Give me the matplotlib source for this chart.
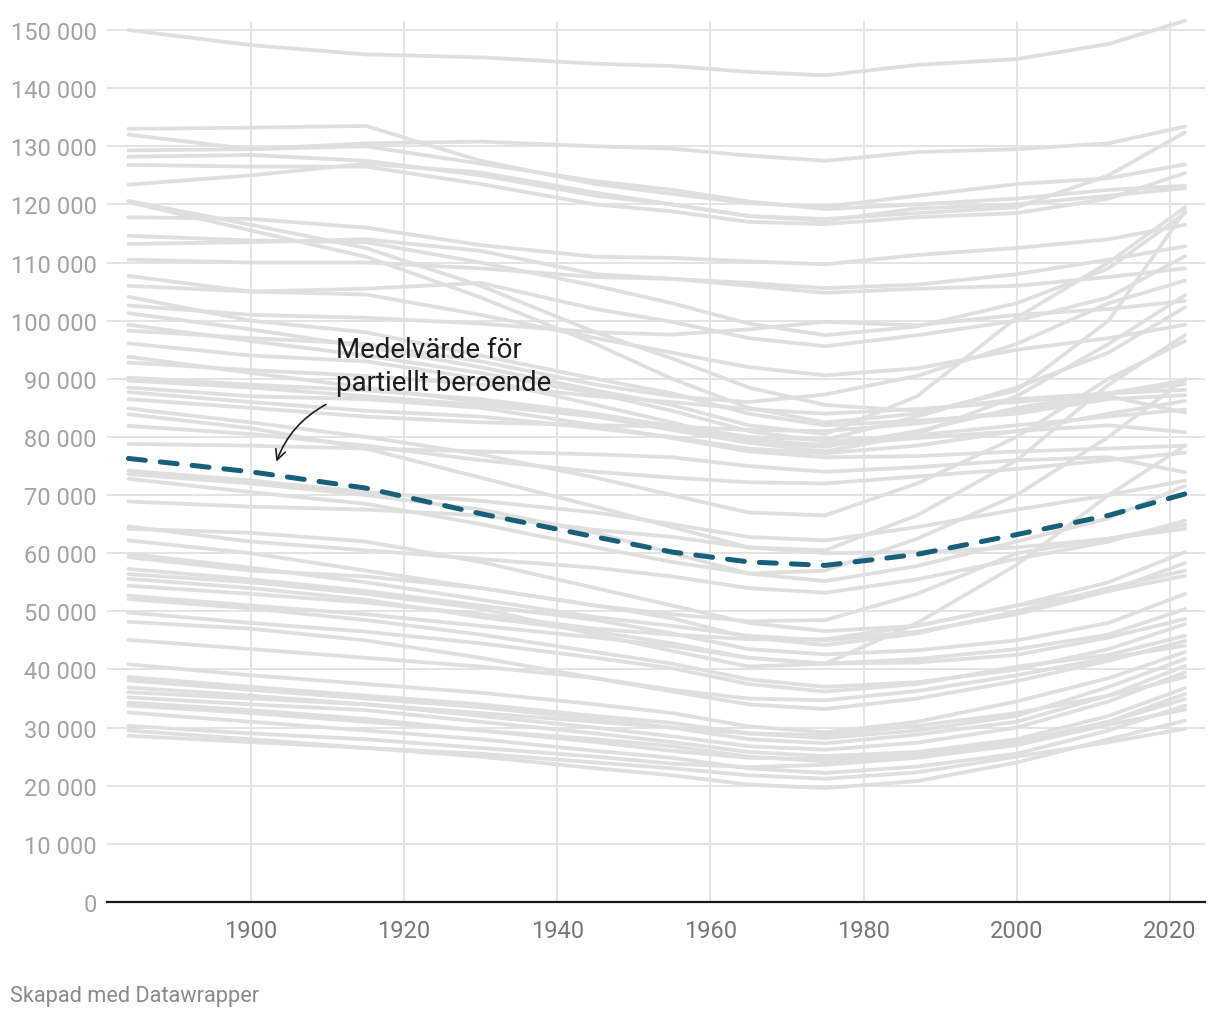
import matplotlib
matplotlib.use("Agg")
import matplotlib.pyplot as plt
import numpy as np

plt.rcParams['font.family'] = ['Roboto', 'DejaVu Sans']

YEARS = [1884, 1900, 1915, 1930, 1945, 1955, 1965, 1975, 1987, 2000, 2012, 2022]

# grey series (thousands)
LINES = [
    [150.0, 147.4, 145.8, 145.3, 144.2, 143.8, 142.8, 142.2, 144.0, 145.0, 147.6, 151.6],
    [129.3, 129.5, 130.5, 130.8, 130.0, 129.6, 128.4, 127.5, 129.0, 129.5, 130.5, 133.4],
    [133.0, 133.2, 133.5, 127.5, 123.5, 121.8, 120.2, 119.6, 121.5, 123.5, 124.5, 126.9],
    [132.0, 129.5, 130.0, 127.0, 124.0, 122.5, 120.5, 119.2, 120.0, 121.0, 122.5, 123.2],
    [128.2, 128.5, 127.5, 125.0, 121.5, 120.0, 118.0, 117.2, 119.3, 120.0, 121.5, 122.8],
    [126.8, 126.5, 126.5, 123.5, 120.0, 118.8, 117.0, 116.6, 117.8, 118.5, 121.0, 125.4],
    [123.4, 125.0, 127.0, 125.5, 122.0, 120.0, 118.0, 117.5, 118.5, 119.5, 125.0, 132.4],
    [120.6, 116.5, 112.5, 106.0, 98.0, 93.5, 88.5, 85.5, 84.5, 86.5, 87.5, 89.1],
    [120.4, 115.5, 111.0, 104.0, 96.0, 90.0, 85.0, 82.5, 84.0, 88.0, 100.0, 118.9],
    [117.8, 117.5, 116.0, 113.0, 111.0, 110.8, 110.2, 109.7, 111.3, 112.5, 114.0, 116.5],
    [114.6, 113.8, 113.5, 110.0, 106.0, 103.0, 99.5, 97.5, 99.0, 103.0, 109.0, 118.5],
    [113.2, 113.5, 114.0, 112.0, 108.0, 107.2, 106.0, 104.8, 105.5, 106.0, 107.5, 109.0],
    [110.5, 110.0, 110.0, 109.0, 107.5, 107.2, 106.5, 105.6, 106.2, 108.0, 110.5, 112.8],
    [107.7, 105.0, 104.5, 101.0, 97.0, 94.5, 92.0, 90.6, 91.8, 95.0, 97.0, 99.3],
    [106.0, 105.0, 105.5, 106.5, 102.0, 99.8, 97.0, 95.6, 97.5, 100.0, 104.0, 111.1],
    [104.1, 100.0, 98.0, 94.0, 90.0, 87.5, 84.0, 82.0, 82.8, 84.0, 86.5, 87.2],
    [102.6, 101.0, 100.5, 99.5, 98.0, 97.6, 98.5, 99.8, 99.2, 101.0, 102.0, 103.4],
    [101.3, 98.5, 95.5, 92.0, 88.0, 85.5, 82.0, 80.5, 87.0, 100.5, 110.0, 119.5],
    [99.3, 96.5, 94.0, 91.0, 87.5, 84.5, 81.0, 79.2, 80.3, 82.0, 83.5, 84.7],
    [98.3, 97.0, 96.0, 93.0, 89.0, 87.0, 86.0, 87.3, 90.5, 96.0, 103.0, 106.9],
    [96.1, 94.0, 93.0, 90.0, 85.5, 82.5, 79.0, 77.5, 80.5, 87.0, 96.0, 104.4],
    [93.8, 91.0, 88.5, 86.0, 83.5, 81.2, 79.0, 78.3, 81.0, 85.0, 87.5, 88.1],
    [92.8, 91.5, 90.5, 89.0, 87.0, 86.0, 84.8, 84.0, 84.8, 86.0, 87.5, 89.7],
    [90.2, 89.0, 88.0, 86.5, 84.0, 81.8, 79.5, 78.6, 79.8, 81.0, 82.0, 80.8],
    [89.7, 88.5, 87.0, 85.5, 83.5, 82.0, 80.0, 79.5, 83.5, 88.5, 94.5, 102.3],
    [88.5, 87.0, 86.5, 85.0, 82.0, 79.8, 77.5, 76.5, 76.7, 77.5, 78.0, 78.5],
    [87.7, 86.0, 84.5, 83.5, 81.5, 80.0, 78.0, 77.2, 78.5, 81.0, 84.0, 86.2],
    [86.5, 85.0, 83.5, 82.5, 82.0, 81.8, 81.2, 81.0, 82.3, 84.5, 87.0, 84.2],
    [84.9, 82.5, 80.0, 77.0, 73.0, 70.0, 67.0, 66.5, 72.0, 80.0, 90.0, 96.5],
    [83.9, 81.5, 78.0, 73.0, 68.0, 64.5, 61.0, 60.5, 66.5, 76.0, 89.0, 97.5],
    [81.9, 80.5, 78.5, 76.0, 74.0, 73.0, 72.2, 72.0, 73.2, 74.5, 76.0, 77.3],
    [78.8, 78.5, 78.0, 77.5, 77.0, 76.5, 75.0, 74.0, 74.8, 76.0, 76.5, 73.9],
    [74.2, 72.5, 70.5, 69.0, 67.0, 65.0, 62.8, 62.2, 64.5, 67.5, 70.0, 72.5],
    [73.6, 72.0, 70.0, 67.5, 63.5, 60.0, 56.5, 55.2, 57.8, 62.0, 66.0, 71.6],
    [72.8, 70.5, 68.5, 65.0, 61.0, 58.5, 56.5, 57.0, 62.5, 70.0, 80.0, 90.0],
    [68.9, 68.0, 67.5, 66.5, 64.0, 62.8, 61.0, 60.0, 60.2, 61.0, 62.5, 64.9],
    [64.6, 62.0, 60.5, 59.0, 57.5, 56.0, 54.0, 53.2, 55.5, 59.0, 62.0, 65.6],
    [64.2, 63.5, 62.0, 58.5, 54.0, 51.0, 48.0, 46.6, 47.5, 51.0, 55.0, 60.2],
    [62.2, 60.0, 57.0, 54.0, 51.0, 49.5, 48.3, 48.5, 53.0, 60.0, 62.5, 64.2],
    [59.9, 57.5, 55.0, 52.0, 49.0, 47.5, 45.8, 45.0, 46.5, 49.5, 53.5, 58.3],
    [59.3, 57.0, 56.0, 54.0, 51.0, 48.8, 45.5, 44.2, 46.2, 50.0, 54.0, 57.0],
    [57.3, 55.5, 53.5, 51.0, 48.5, 46.2, 43.5, 42.6, 43.3, 45.0, 48.0, 53.0],
    [56.4, 55.0, 53.0, 50.5, 46.0, 43.2, 40.5, 41.0, 48.0, 58.0, 70.0, 78.5],
    [55.6, 54.0, 52.0, 49.0, 46.5, 44.5, 42.0, 41.0, 41.8, 43.5, 46.0, 50.4],
    [54.4, 53.0, 51.5, 49.5, 47.0, 46.0, 45.2, 45.2, 47.5, 51.0, 53.5, 56.1],
    [52.7, 51.0, 49.5, 47.5, 45.5, 44.0, 42.0, 41.0, 41.2, 42.5, 45.5, 48.7],
    [52.1, 50.5, 48.5, 46.0, 43.0, 41.0, 38.3, 37.0, 37.8, 40.0, 43.5, 47.8],
    [49.8, 48.0, 46.5, 44.5, 42.0, 40.2, 37.5, 36.2, 37.5, 40.5, 42.5, 45.8],
    [48.2, 47.0, 45.0, 42.0, 38.5, 36.2, 34.0, 33.2, 35.0, 38.0, 41.5, 44.9],
    [45.1, 43.5, 42.0, 40.5, 38.5, 36.5, 35.0, 34.7, 36.3, 39.0, 42.0, 44.1],
    [40.9, 39.0, 37.5, 36.0, 34.0, 32.5, 30.2, 29.2, 31.0, 34.5, 38.5, 43.0],
    [38.7, 37.0, 35.5, 34.0, 32.0, 30.8, 29.0, 28.2, 29.5, 32.0, 37.0, 41.8],
    [38.1, 36.5, 35.0, 33.5, 31.5, 30.0, 28.0, 27.3, 28.8, 31.0, 35.5, 40.6],
    [36.9, 35.5, 34.0, 32.0, 30.0, 28.5, 26.8, 26.2, 27.4, 30.0, 34.5, 39.5],
    [36.1, 35.0, 34.0, 32.5, 31.0, 30.0, 29.0, 28.7, 30.3, 32.5, 35.5, 38.7],
    [35.2, 34.0, 33.0, 31.0, 29.0, 27.5, 25.8, 25.1, 25.8, 28.0, 32.0, 36.8],
    [34.3, 33.0, 31.5, 29.5, 27.5, 26.0, 24.8, 24.6, 25.3, 27.0, 31.0, 35.8],
    [33.8, 32.5, 31.0, 29.5, 28.0, 26.8, 25.0, 24.2, 25.3, 27.5, 31.0, 34.9],
    [32.6, 31.0, 29.5, 28.0, 26.0, 24.8, 23.0, 22.2, 23.3, 25.5, 29.5, 33.8],
    [30.3, 29.0, 28.0, 26.5, 25.0, 23.8, 23.2, 23.6, 24.8, 27.0, 30.5, 33.1],
    [29.5, 28.0, 26.5, 25.0, 23.0, 21.8, 20.2, 19.6, 20.8, 24.0, 28.0, 31.2],
    [28.6, 27.5, 26.5, 25.5, 24.0, 23.0, 21.8, 21.2, 22.3, 25.0, 27.5, 29.8],
]

# mean of partial dependence (thousands)
MEAN = [76.3, 74.0, 71.2, 66.8, 62.8, 60.2, 58.5, 57.9, 59.8, 63.2, 66.5, 70.2]

YTICKS = [0, 10, 20, 30, 40, 50, 60, 70, 80, 90, 100, 110, 120, 130, 140, 150]
XTICKS = [1900, 1920, 1940, 1960, 1980, 2000, 2020]

fig = plt.figure(figsize=(12.2, 10.2), dpi=100)
ax = fig.add_axes([107/1220, 1 - 903/1020, 1098/1220, (903 - 21.7)/1020])

years = np.array(YEARS)
for vals in LINES:
    ax.plot(years, np.array(vals) * 1000, color='#dfdfdf', lw=2.7,
            solid_joinstyle='round', solid_capstyle='round', zorder=2, clip_on=False)

ax.plot(years, np.array(MEAN) * 1000, color='#175f7a', lw=3.6,
        linestyle=(0, (3.4, 3.0)), dash_capstyle='round', zorder=4, clip_on=False)

ax.set_xlim(1881.2, 2024.6)
ax.set_ylim(0, 151600)

ax.set_yticks([v * 1000 for v in YTICKS])
ax.set_yticklabels([f"{v * 1000:,}".replace(",", " ") for v in YTICKS])
ax.set_xticks(XTICKS)
ax.set_xticklabels([str(x) for x in XTICKS])

ax.grid(True, color='#e4e4e4', lw=1.4, zorder=0)
ax.set_axisbelow(True)
for s in ['top', 'right', 'left']:
    ax.spines[s].set_visible(False)
ax.spines['bottom'].set_color('#1a1a1a')
ax.spines['bottom'].set_linewidth(1.6)
ax.spines['bottom'].set_zorder(5)

ax.tick_params(axis='y', length=0, pad=7.2, labelsize=17, labelcolor='#a3a3a3')
ax.tick_params(axis='x', length=0, pad=12, labelsize=17, labelcolor='#777777')

ax.text(1911.1, 97300, "Medelvärde för\npartiellt beroende", fontsize=20,
        color='#1d1d1d', va='top', ha='left', linespacing=1.28, zorder=6)
ax.annotate("", xy=(1903.2, 75300), xytext=(1910.1, 85800),
            arrowprops=dict(arrowstyle='->', color='#1d1d1d', lw=1.2,
                            connectionstyle='arc3,rad=0.2', mutation_scale=18),
            zorder=6)

fig.text(10/1220, 1 - 997/1020, "Skapad med Datawrapper", fontsize=15.7,
         color='#8a8a8a', va='center', ha='left')

fig.savefig("out.png", dpi=100, facecolor='white')
